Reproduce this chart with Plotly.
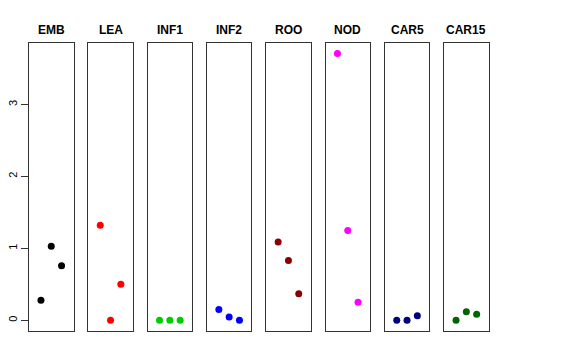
import plotly.graph_objects as go

tissues = ["EMB", "LEA", "INF1", "INF2", "ROO", "NOD", "CAR5", "CAR15"]
colors = ["#000000", "#FF0000", "#00CD00", "#0000FF", "#8B0000", "#FF00FF", "#000080", "#006400"]
xpos = [1, 2, 3]
values = {
    "EMB": [0.28, 1.03, 0.76],
    "LEA": [1.32, 0.0, 0.50],
    "INF1": [0.0, 0.0, 0.0],
    "INF2": [0.15, 0.046, 0.0],
    "ROO": [1.09, 0.83, 0.37],
    "NOD": [3.71, 1.25, 0.25],
    "CAR5": [0.0, 0.0, 0.064],
    "CAR15": [0.0, 0.12, 0.083],
}
yticks = [0, 1, 2, 3]

W, H = 576, 360
OFF = 8.0  # page body margin offset
left0, pw, step = 29.0 - OFF, 44.5, 59.3
top_px, bot_px = 42.7 - OFF, 331.0 - OFF
ymax = max(max(v) for v in values.values())
yrange = [-0.04 * ymax, ymax * 1.04]

fig = go.Figure()
for i, (t, c) in enumerate(zip(tissues, colors)):
    n = i + 1
    xa = "x" if n == 1 else f"x{n}"
    ya = "y" if n == 1 else f"y{n}"
    fig.add_trace(go.Scatter(x=xpos, y=values[t], mode="markers",
                             marker=dict(color=c, size=7),
                             xaxis=xa, yaxis=ya, showlegend=False))
    x0 = (left0 + i * step) / W
    x1 = (left0 + i * step + pw) / W
    xkey = "xaxis" if n == 1 else f"xaxis{n}"
    ykey = "yaxis" if n == 1 else f"yaxis{n}"
    fig.layout[xkey] = dict(domain=[x0, x1], range=[-0.16, 4.16], showticklabels=False,
                            ticks="", showgrid=False, zeroline=False, showline=True,
                            linecolor="#333333", linewidth=1, mirror=True,
                            anchor=ya, fixedrange=True)
    yax = dict(domain=[1 - bot_px / H, 1 - top_px / H], range=yrange, showgrid=False,
               zeroline=False, showline=True, linecolor="#333333", linewidth=1, mirror=True,
               anchor=xa, fixedrange=True)
    if n == 1:
        yax.update(tickvals=yticks, ticktext=[str(v) for v in yticks], ticks="outside",
                   ticklen=7, tickcolor="#333333", tickangle=-90,
                   tickfont=dict(family="Liberation Sans, Arial", size=11, color="#000000"))
    else:
        yax.update(showticklabels=False, ticks="")
    fig.layout[ykey] = yax
    fig.add_annotation(x=(x0 + x1) / 2, y=1 - (29.5 - OFF) / H, xref="paper", yref="paper",
                       text=f"<b>{t}</b>", showarrow=False,
                       font=dict(family="Liberation Sans, Arial", size=12, color="#000000"),
                       xanchor="center", yanchor="middle")

fig.update_layout(width=W, height=H, margin=dict(l=0, r=0, t=0, b=0),
                  paper_bgcolor="white", plot_bgcolor="white")
fig.write_html("out.html")
